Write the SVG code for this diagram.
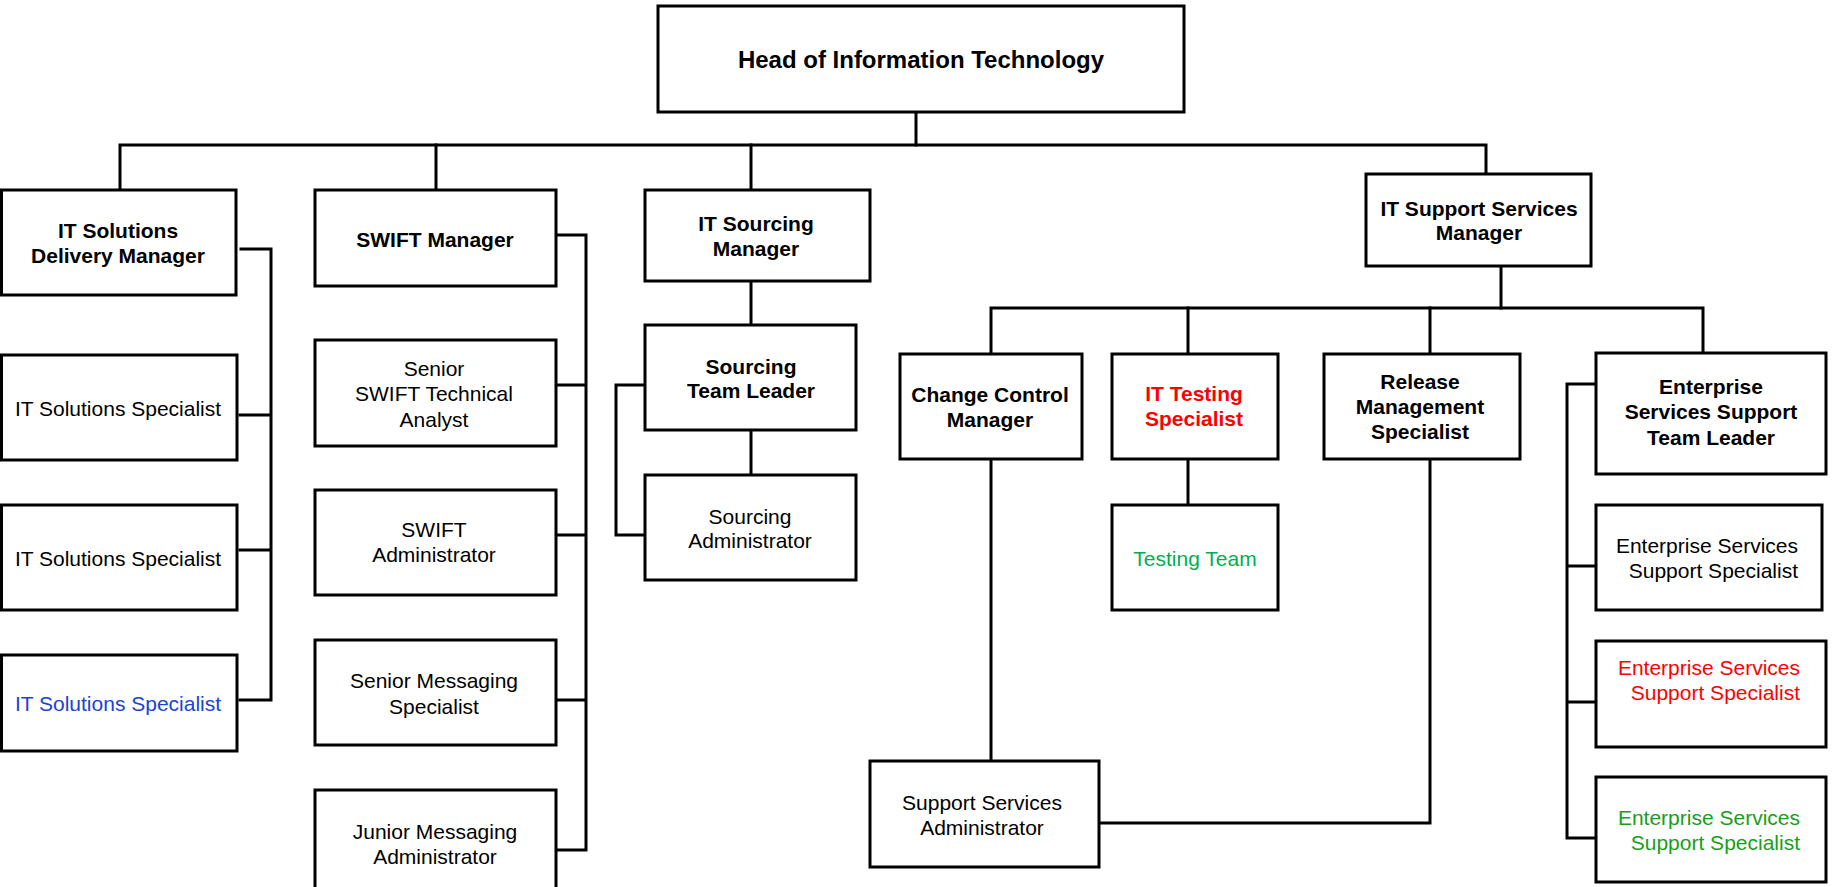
<svg xmlns="http://www.w3.org/2000/svg" width="1833" height="887" viewBox="0 0 1833 887">
<style>
.box{fill:#fff;stroke:#000;stroke-width:3}
.c{fill:none;stroke:#000;stroke-width:3;stroke-linecap:square}
text{font-family:"Liberation Sans",Arial,sans-serif;font-size:21px;fill:#000;text-anchor:middle}
.b{font-weight:bold}
.h{font-size:24px;font-weight:bold}
.blue{fill:#1a44d4}
.red{fill:#ff0000}
.tg{fill:#00b050}
.g{fill:#17a017}
.r{text-anchor:end}
</style>
<rect width="1833" height="887" fill="#fff"/>
<g id="connectors">
<path class="c" d="M916 112V145"/>
<path class="c" d="M120 190V145H1486V174"/>
<path class="c" d="M436 145V190"/>
<path class="c" d="M751 145V190"/>
<path class="c" d="M241 249H271V700H240M240 415H271M240 550H271"/>
<path class="c" d="M557 235H586V850H557M557 385H586M557 535H586M557 700H586"/>
<path class="c" d="M751 281V325M751 430V475"/>
<path class="c" d="M645 385H616V535H645"/>
<path class="c" d="M1501 266V308"/>
<path class="c" d="M991 354V308H1703V353"/>
<path class="c" d="M1188 308V354M1430 308V354"/>
<path class="c" d="M991 459V761"/>
<path class="c" d="M1188 459V505"/>
<path class="c" d="M1430 459V823H1099"/>
<path class="c" d="M1596 384H1567V838H1596M1567 566H1596M1567 702H1596"/>
</g>
<g id="head"><rect class="box" x="658" y="6" width="526" height="106"/><text class="h" x="921" y="68">Head of Information Technology</text></g>
<g id="delivery-manager"><rect class="box" x="1.5" y="190" width="234.5" height="105"/><text class="b" x="118" y="238">IT Solutions</text><text class="b" x="118" y="263">Delivery Manager</text></g>
<g id="swift-manager"><rect class="box" x="315" y="190" width="241" height="96"/><text class="b" x="435" y="247">SWIFT Manager</text></g>
<g id="sourcing-manager"><rect class="box" x="645" y="190" width="225" height="91"/><text class="b" x="756" y="231">IT Sourcing</text><text class="b" x="756" y="256">Manager</text></g>
<g id="support-manager"><rect class="box" x="1366" y="174" width="225" height="92"/><text class="b" x="1479" y="216">IT Support Services</text><text class="b" x="1479" y="240">Manager</text></g>
<g id="itss-1"><rect class="box" x="1.5" y="355" width="235.5" height="105"/><text x="118" y="416">IT Solutions Specialist</text></g>
<g id="itss-2"><rect class="box" x="1.5" y="505" width="235.5" height="105"/><text x="118" y="566">IT Solutions Specialist</text></g>
<g id="itss-3"><rect class="box" x="1.5" y="655" width="235.5" height="96"/><text class="blue" x="118" y="711">IT Solutions Specialist</text></g>
<g id="senior-swift"><rect class="box" x="315" y="340" width="241" height="106"/><text x="434" y="376">Senior</text><text x="434" y="401">SWIFT Technical</text><text x="434" y="427">Analyst</text></g>
<g id="swift-admin"><rect class="box" x="315" y="490" width="241" height="105"/><text x="434" y="537">SWIFT</text><text x="434" y="562">Administrator</text></g>
<g id="senior-messaging"><rect class="box" x="315" y="640" width="241" height="105"/><text x="434" y="688">Senior Messaging</text><text x="434" y="714">Specialist</text></g>
<g id="junior-messaging"><rect class="box" x="315" y="790" width="241" height="110"/><text x="435" y="839">Junior Messaging</text><text x="435" y="864">Administrator</text></g>
<g id="sourcing-leader"><rect class="box" x="645" y="325" width="211" height="105"/><text class="b" x="751" y="374">Sourcing</text><text class="b" x="751" y="398">Team Leader</text></g>
<g id="sourcing-admin"><rect class="box" x="645" y="475" width="211" height="105"/><text x="750" y="524">Sourcing</text><text x="750" y="548">Administrator</text></g>
<g id="change-control"><rect class="box" x="900" y="354" width="182" height="105"/><text class="b" x="990" y="402">Change Control</text><text class="b" x="990" y="427">Manager</text></g>
<g id="it-testing"><rect class="box" x="1112" y="354" width="166" height="105"/><text class="b red" x="1194" y="401">IT Testing</text><text class="b red" x="1194" y="426">Specialist</text></g>
<g id="testing-team"><rect class="box" x="1112" y="505" width="166" height="105"/><text class="tg" x="1195" y="566">Testing Team</text></g>
<g id="release"><rect class="box" x="1324" y="354" width="196" height="105"/><text class="b" x="1420" y="389">Release</text><text class="b" x="1420" y="414">Management</text><text class="b" x="1420" y="439">Specialist</text></g>
<g id="support-admin"><rect class="box" x="870" y="761" width="229" height="106"/><text x="982" y="810">Support Services</text><text x="982" y="835">Administrator</text></g>
<g id="ess-leader"><rect class="box" x="1596" y="353" width="230" height="121"/><text class="b" x="1711" y="394">Enterprise</text><text class="b" x="1711" y="419">Services Support</text><text class="b" x="1711" y="445">Team Leader</text></g>
<g id="ess-1"><rect class="box" x="1596" y="505" width="226" height="105"/><text class="r" x="1798" y="553">Enterprise Services</text><text class="r" x="1798" y="578">Support Specialist</text></g>
<g id="ess-2"><rect class="box" x="1596" y="641" width="230" height="106"/><text class="r red" x="1800" y="675">Enterprise Services</text><text class="r red" x="1800" y="700">Support Specialist</text></g>
<g id="ess-3"><rect class="box" x="1596" y="777" width="230" height="105"/><text class="r g" x="1800" y="825">Enterprise Services</text><text class="r g" x="1800" y="850">Support Specialist</text></g>
</svg>
